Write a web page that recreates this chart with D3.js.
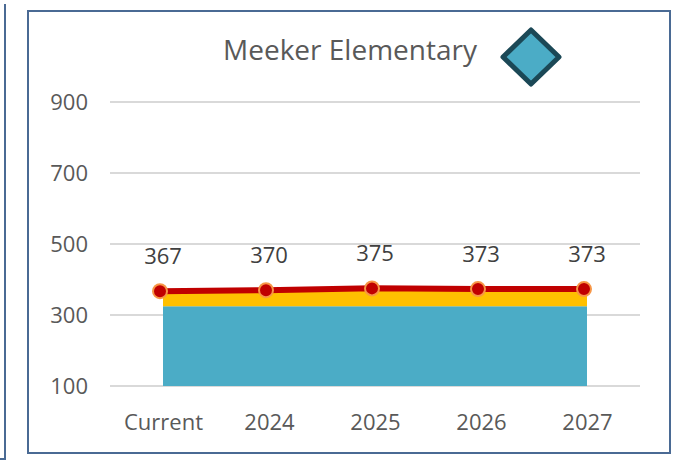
<!DOCTYPE html>
<html>
<head>
<meta charset="utf-8">
<script src="https://cdn.jsdelivr.net/npm/d3@7"></script>
<style>
  body { margin: 0; background: #fff; }
  svg { display: block; }
</style>
</head>
<body>
<div id="chart"></div>
<script>
const categories = ["Current", "2024", "2025", "2026", "2027"];
const baseValues = [325, 325, 325, 325, 325];
const totals = [367, 370, 375, 373, 373];
const yTicks = [100, 300, 500, 700, 900];

const width = 673;
const height = 460;
const font = "'Open Sans', sans-serif";
const textColor = "#595959";

const svg = d3.select("#chart").append("svg")
  .attr("width", width)
  .attr("height", height);

// edge of the neighbouring chart on the left
svg.append("path")
  .attr("d", "M5,4 V459 H0")
  .attr("fill", "none")
  .attr("stroke", "#4a6a94")
  .attr("stroke-width", 2);

// chart frame
svg.append("rect")
  .attr("x", 28)
  .attr("y", 11)
  .attr("width", 642)
  .attr("height", 442)
  .attr("fill", "#fff")
  .attr("stroke", "#4a6a94")
  .attr("stroke-width", 2);

const x = d3.scalePoint()
  .domain(categories)
  .range([110, 640])
  .padding(0.5);

const y = d3.scaleLinear()
  .domain([100, 900])
  .range([386, 102]);

// gridlines
svg.append("g")
  .selectAll("line")
  .data(yTicks)
  .enter()
  .append("line")
  .attr("x1", 110)
  .attr("x2", 640)
  .attr("y1", d => y(d))
  .attr("y2", d => y(d))
  .attr("stroke", "#d9d9d9")
  .attr("stroke-width", 2);

// y axis labels
const yAxis = svg.append("g")
  .attr("transform", "translate(88,0)")
  .call(d3.axisLeft(y).tickValues(yTicks).tickSize(0).tickPadding(0));
yAxis.select(".domain").remove();
yAxis.selectAll("text")
  .attr("font-family", font)
  .attr("font-size", 22)
  .attr("fill", textColor);

// x axis labels
const xAxis = svg.append("g")
  .attr("transform", "translate(0,414)")
  .call(d3.axisBottom(x).tickSize(0).tickPadding(0));
xAxis.select(".domain").remove();
xAxis.selectAll("text")
  .attr("font-family", font)
  .attr("font-size", 22)
  .attr("fill", textColor);

const rows = categories.map((c, i) => ({ cat: c, base: baseValues[i], total: totals[i] }));

// blue base area
svg.append("path")
  .datum(rows)
  .attr("fill", "#4bacc6")
  .attr("d", d3.area()
    .x(d => x(d.cat))
    .y0(y(100))
    .y1(d => y(d.base)));

// yellow area up to total
svg.append("path")
  .datum(rows)
  .attr("fill", "#ffc000")
  .attr("d", d3.area()
    .x(d => x(d.cat))
    .y0(d => y(d.base))
    .y1(d => y(d.total)));

// red total line
const lineShift = -3;
svg.append("path")
  .datum(rows)
  .attr("fill", "none")
  .attr("stroke", "#c00000")
  .attr("stroke-width", 6)
  .attr("d", d3.line()
    .x(d => x(d.cat) + lineShift)
    .y(d => y(d.total)));

svg.append("g")
  .selectAll("circle")
  .data(rows)
  .enter()
  .append("circle")
  .attr("cx", d => x(d.cat) + lineShift)
  .attr("cy", d => y(d.total))
  .attr("r", 7)
  .attr("fill", "#c00000")
  .attr("stroke", "#f79646")
  .attr("stroke-width", 2);

// data labels
svg.append("g")
  .selectAll("text")
  .data(rows)
  .enter()
  .append("text")
  .attr("x", d => x(d.cat))
  .attr("y", d => y(d.total) - 27)
  .attr("text-anchor", "middle")
  .attr("font-family", font)
  .attr("font-size", 22)
  .attr("fill", "#404040")
  .text(d => d.total);

// title
svg.append("text")
  .attr("x", 350)
  .attr("y", 60)
  .attr("text-anchor", "middle")
  .attr("font-family", font)
  .attr("font-size", 28)
  .attr("fill", textColor)
  .text("Meeker Elementary");

// diamond symbol
svg.append("path")
  .attr("d", "M531,30 L559,57 L531,84 L503,57 Z")
  .attr("fill", "#4bacc6")
  .attr("stroke", "#1b4856")
  .attr("stroke-width", 5)
  .attr("stroke-linejoin", "round");
</script>
</body>
</html>
